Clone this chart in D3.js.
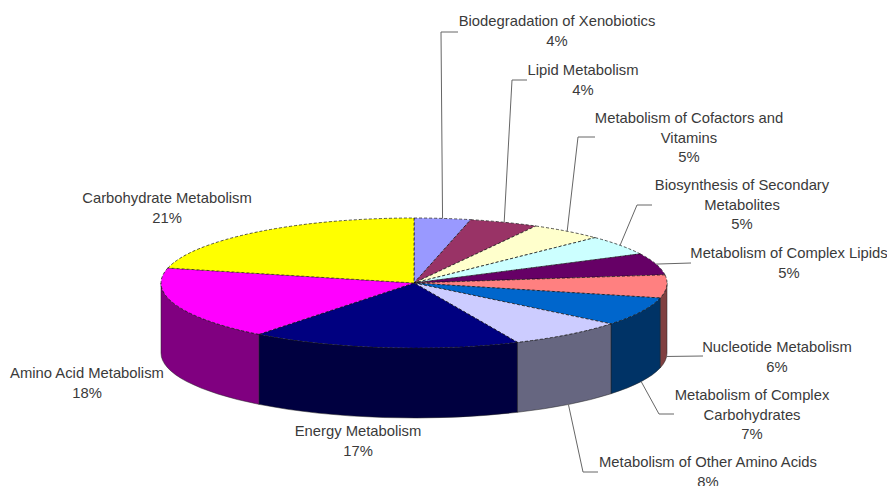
<!DOCTYPE html>
<html>
<head>
<meta charset="utf-8">
<script src="https://cdn.jsdelivr.net/npm/d3@7"></script>
<style>
  html, body { margin: 0; padding: 0; background: #fff; }
  svg { display: block; }
  text { font-family: "Liberation Sans", Arial, sans-serif; font-size: 14.8px; fill: #3a3a3a; text-anchor: middle; dominant-baseline: central; }
</style>
</head>
<body>
<svg id="chart" width="887" height="486"></svg>
<script>
// clockwise from 12 o'clock, values estimated from the rim (labels show them rounded)
var categories = [
  ['Biodegradation of Xenobiotics'],
  ['Lipid Metabolism'],
  ['Metabolism of Cofactors and', 'Vitamins'],
  ['Biosynthesis of Secondary', 'Metabolites'],
  ['Metabolism of Complex Lipids'],
  ['Nucleotide Metabolism'],
  ['Metabolism of Complex', 'Carbohydrates'],
  ['Metabolism of Other Amino Acids'],
  ['Energy Metabolism'],
  ['Amino Acid Metabolism'],
  ['Carbohydrate Metabolism']
];
var values = [3.6, 4.4, 4.7, 4.9, 5.4, 5.7, 7.1, 7.5, 17.2, 18.2, 21.3];
var colors = ['#9999ff', '#993366', '#ffffcc', '#ccffff', '#660066', '#ff8080',
  '#0066cc', '#ccccff', '#000080', '#ff00ff', '#ffff00'];

// label placement: centre x, y of first line, leader elbow and end (null = no leader)
var labelX = [557, 583, 689, 742, 789, 777, 752, 708, 358, 87, 167];
var labelY = [21, 70, 118, 185, 253, 347, 395, 462, 431, 373, 198];
var leaders = [
  [[441, 32], [458, 32]],
  [[512, 80], [527, 80]],
  [[578, 137], [595, 137]],
  [[637, 205], [652, 205]],
  [[691, 263], [691, 263]],
  [[703, 356], [703, 356]],
  [[659, 414], [674, 414]],
  [[583, 472], [598, 472]],
  null, null, null
];

var cx = 414, cy = 283, rx = 253, ry = 65, depth = 70, lineHeight = 19.6;

var svg = d3.select('#chart');

var pie = d3.pie().sort(null).value(function(d) { return d; });
var arcs = pie(values);

var arc = d3.arc().innerRadius(0).outerRadius(rx);

function rimPoint(angle, dy) {
  return [cx + rx * Math.sin(angle), cy - ry * Math.cos(angle) + dy];
}

function shade(color) {
  let c = d3.rgb(color);
  return d3.rgb(c.r * 0.5, c.g * 0.5, c.b * 0.5).formatHex();
}

// Side walls, only the front half of the ellipse shows
function wallPath(d) {
  let a0 = Math.max(d.startAngle, Math.PI / 2);
  let a1 = Math.min(d.endAngle, Math.PI * 1.5);
  if (a1 <= a0) {
    return null;
  }
  let p0 = rimPoint(a0, 0), p1 = rimPoint(a1, 0);
  let large = a1 - a0 > Math.PI ? 1 : 0;
  return 'M' + p0 +
    'A' + rx + ',' + ry + ' 0 ' + large + ' 1 ' + p1 +
    'L' + p1[0] + ',' + (p1[1] + depth) +
    'A' + rx + ',' + ry + ' 0 ' + large + ' 0 ' + p0[0] + ',' + (p0[1] + depth) +
    'Z';
}

svg.append('g').selectAll('path')
  .data(arcs.filter(function(d) { return wallPath(d) !== null; }))
  .enter().append('path')
  .attr('d', wallPath)
  .attr('fill', function(d) { return shade(colors[d.index]); })
  .attr('stroke', '#222')
  .attr('stroke-width', 0.5);

// Top face
svg.append('g')
  .attr('transform', 'translate(' + cx + ',' + cy + ') scale(1,' + ry / rx + ')')
  .selectAll('path')
  .data(arcs)
  .enter().append('path')
  .attr('d', arc)
  .attr('fill', function(d) { return colors[d.index]; })
  .attr('stroke', '#111')
  .attr('stroke-width', 0.7)
  .attr('stroke-dasharray', '3 2')
  .attr('vector-effect', 'non-scaling-stroke');

// Leader lines, drawn from the middle of each slice's rim
var line = d3.line();

svg.append('g').selectAll('path')
  .data(arcs.filter(function(d) { return leaders[d.index]; }))
  .enter().append('path')
  .attr('d', function(d) {
    let mid = (d.startAngle + d.endAngle) / 2;
    let front = Math.cos(mid) < 0;
    return line([rimPoint(mid, front ? depth : 0)].concat(leaders[d.index]));
  })
  .attr('fill', 'none')
  .attr('stroke', '#666')
  .attr('stroke-width', 1);

// Labels
var labels = svg.append('g').selectAll('text')
  .data(arcs)
  .enter().append('text');

labels.each(function(d) {
  let lines = categories[d.index].concat([Math.round(d.value) + '%']);
  d3.select(this).selectAll('tspan')
    .data(lines)
    .enter().append('tspan')
    .attr('x', labelX[d.index])
    .attr('y', function(t, i) { return labelY[d.index] + i * lineHeight; })
    .text(function(t) { return t; });
});
</script>
</body>
</html>
